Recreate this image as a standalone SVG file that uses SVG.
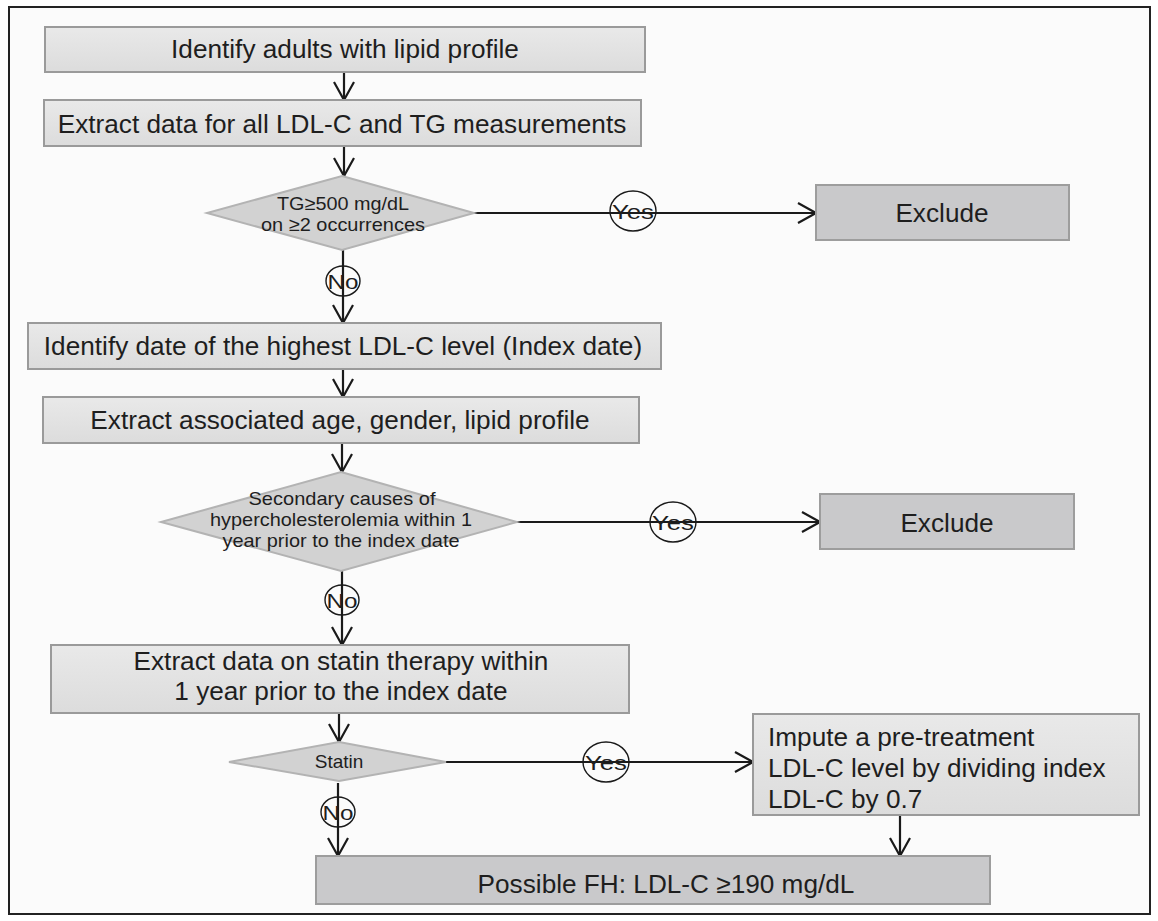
<svg xmlns="http://www.w3.org/2000/svg" width="1158" height="921" viewBox="0 0 1158 921">
<defs>
<style>
.box{fill:url(#lg);stroke:#9a9a9a;stroke-width:2}
.dbox{fill:#c9c9cb;stroke:#9d9d9d;stroke-width:2}
.dia{fill:#d2d2d2;stroke:#b3b3b3;stroke-width:2}
.t{font-family:"Liberation Sans",Arial,sans-serif;font-size:26.2px;fill:#1e1e1e;text-anchor:middle}
.tl{font-family:"Liberation Sans",Arial,sans-serif;font-size:26.2px;fill:#1e1e1e}
.ts{font-family:"Liberation Sans",Arial,sans-serif;font-size:19px;fill:#1e1e1e;text-anchor:middle}
.lab{font-family:"Liberation Sans",Arial,sans-serif;font-size:21px;fill:#1e1e1e;text-anchor:middle}
.c{fill:none;stroke:#1a1a1a;stroke-width:2.2}
.ring{fill:none;stroke:#1a1a1a;stroke-width:1.4}
</style>
<linearGradient id="lg" x1="0" y1="0" x2="0" y2="1">
<stop offset="0" stop-color="#e9e9e9"/>
<stop offset="1" stop-color="#dcdcdc"/>
</linearGradient>
<marker id="ah" viewBox="0 0 20 22" refX="19" refY="11" markerWidth="20" markerHeight="22" markerUnits="userSpaceOnUse" orient="auto">
<path d="M1,1 L19,11 L1,21" fill="none" stroke="#1a1a1a" stroke-width="2.2"/>
</marker>
</defs>
<rect x="0" y="0" width="1158" height="921" fill="#ffffff"/>
<rect x="9" y="7" width="1141" height="907" fill="#fbfbfb" stroke="#222" stroke-width="2"/>

<g id="connectors">
<line class="c" x1="344" y1="72" x2="344" y2="100" marker-end="url(#ah)"/>
<line class="c" x1="344" y1="146" x2="344" y2="176" marker-end="url(#ah)"/>
<line class="c" x1="474" y1="213" x2="816" y2="213" marker-end="url(#ah)"/>
<line class="c" x1="343" y1="250" x2="343" y2="323" marker-end="url(#ah)"/>
<line class="c" x1="343" y1="369" x2="343" y2="397" marker-end="url(#ah)"/>
<line class="c" x1="342" y1="443" x2="342" y2="472" marker-end="url(#ah)"/>
<line class="c" x1="517" y1="522" x2="820" y2="522" marker-end="url(#ah)"/>
<line class="c" x1="342" y1="571" x2="342" y2="645" marker-end="url(#ah)"/>
<line class="c" x1="339" y1="713" x2="339" y2="742" marker-end="url(#ah)"/>
<line class="c" x1="446" y1="762" x2="753" y2="762" marker-end="url(#ah)"/>
<line class="c" x1="338" y1="783" x2="338" y2="856" marker-end="url(#ah)"/>
<line class="c" x1="900" y1="815" x2="900" y2="856" marker-end="url(#ah)"/>
<g id="label-yes1"><ellipse class="ring" cx="633" cy="211" rx="23" ry="20"/><text class="lab" x="633" y="219" textLength="42" lengthAdjust="spacingAndGlyphs">Yes</text></g>
<g id="label-no1"><ellipse class="ring" cx="343" cy="281" rx="17" ry="15"/><text class="lab" x="343" y="289" textLength="31" lengthAdjust="spacingAndGlyphs">No</text></g>
<g id="label-yes2"><ellipse class="ring" cx="673" cy="522" rx="23" ry="20"/><text class="lab" x="673" y="530" textLength="42" lengthAdjust="spacingAndGlyphs">Yes</text></g>
<g id="label-no2"><ellipse class="ring" cx="342" cy="600" rx="17" ry="15"/><text class="lab" x="342" y="608" textLength="31" lengthAdjust="spacingAndGlyphs">No</text></g>
<g id="label-yes3"><ellipse class="ring" cx="606" cy="762" rx="23" ry="20"/><text class="lab" x="606" y="770" textLength="42" lengthAdjust="spacingAndGlyphs">Yes</text></g>
<g id="label-no3"><ellipse class="ring" cx="338" cy="812" rx="17" ry="15"/><text class="lab" x="338" y="820" textLength="31" lengthAdjust="spacingAndGlyphs">No</text></g>
</g>

<g id="n1"><rect class="box" x="45" y="27" width="600" height="45"/><text class="t" x="345" y="58">Identify adults with lipid profile</text></g>
<g id="n2"><rect class="box" x="44" y="100" width="597" height="46"/><text class="t" x="342" y="133">Extract data for all LDL-C and TG measurements</text></g>
<g id="d1"><polygon class="dia" points="342,176 474,213 342,250 207,213"/><text class="ts" x="343" y="210" textLength="132" lengthAdjust="spacingAndGlyphs">TG≥500 mg/dL</text><text class="ts" x="343" y="231" textLength="164" lengthAdjust="spacingAndGlyphs">on ≥2 occurrences</text></g>
<g id="ex1"><rect class="dbox" x="816" y="185" width="253" height="55"/><text class="t" x="942" y="222">Exclude</text></g>
<g id="n3"><rect class="box" x="28" y="323" width="633" height="46"/><text class="t" x="343" y="355">Identify date of the highest LDL-C level (Index date)</text></g>
<g id="n4"><rect class="box" x="43" y="397" width="596" height="46"/><text class="t" x="340" y="429">Extract associated age, gender, lipid profile</text></g>
<g id="d2"><polygon class="dia" points="341,472 517,522 341,571 161,522"/><text class="ts" x="342" y="505" textLength="187" lengthAdjust="spacingAndGlyphs">Secondary causes of</text><text class="ts" x="341" y="526" textLength="262" lengthAdjust="spacingAndGlyphs">hypercholesterolemia within 1</text><text class="ts" x="341" y="547" textLength="237" lengthAdjust="spacingAndGlyphs">year prior to the index date</text></g>
<g id="ex2"><rect class="dbox" x="820" y="494" width="254" height="55"/><text class="t" x="947" y="532">Exclude</text></g>
<g id="n5"><rect class="box" x="51" y="645" width="578" height="68"/><text class="t" x="341" y="670">Extract data on statin therapy within</text><text class="t" x="341" y="700">1 year prior to the index date</text></g>
<g id="d3"><polygon class="dia" points="339,742 446,762 339,781 229,762"/><text class="ts" x="339" y="768">Statin</text></g>
<g id="n6"><rect class="box" x="753" y="714" width="386" height="101"/><text class="tl" x="768" y="746">Impute a pre-treatment</text><text class="tl" x="768" y="777">LDL-C level by dividing index</text><text class="tl" x="768" y="808">LDL-C by 0.7</text></g>
<g id="n7"><rect class="dbox" x="316" y="856" width="674" height="48"/><text class="t" x="666" y="893">Possible FH: LDL-C ≥190 mg/dL</text></g>
</svg>
